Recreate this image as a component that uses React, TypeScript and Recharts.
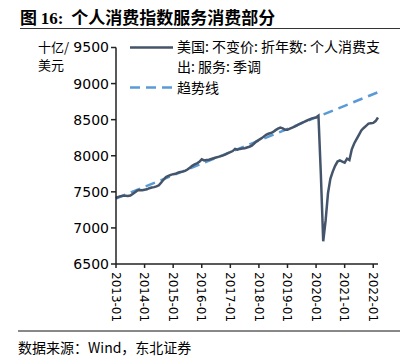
import { LineChart, Line, XAxis, YAxis } from 'recharts';

// monthly, 2013-01 .. 2022-03
const years = [2013, 2014, 2015, 2016, 2017, 2018, 2019, 2020, 2021, 2022];

const pceServices = [
  // 2013
  7415, 7430, 7440, 7445, 7445, 7442, 7448, 7470, 7495, 7520, 7525, 7522,
  // 2014
  7530, 7535, 7550, 7560, 7565, 7575, 7590, 7630, 7670, 7705, 7720, 7735,
  // 2015
  7745, 7750, 7765, 7775, 7780, 7790, 7810, 7835, 7860, 7880, 7895, 7915,
  // 2016
  7950, 7935, 7940, 7945, 7955, 7965, 7975, 7985, 7995, 8005, 8020, 8035,
  // 2017
  8050, 8065, 8095, 8085, 8095, 8100, 8105, 8115, 8125, 8140, 8170, 8200,
  // 2018
  8220, 8240, 8265, 8290, 8305, 8315, 8330, 8355, 8375, 8390, 8380, 8360,
  // 2019
  8360, 8375, 8390, 8405, 8420, 8440, 8455, 8470, 8485, 8500, 8515, 8525,
  // 2020
  8530, 8555, 7750, 6815, 7100, 7480, 7680, 7780, 7860, 7920, 7935, 7920,
  // 2021
  7905, 7960, 7940, 8090, 8170, 8230, 8290, 8350, 8385, 8415, 8445, 8450,
  // 2022
  8455, 8480, 8530,
];

// trend line: only its two ends are given
const trendStart = 7408;
const trendEnd = 8880;

const yTicks = [6500, 7000, 7500, 8000, 8500, 9000, 9500];

const months = pceServices.map((_, i) => {
  const y = 2013 + Math.floor(i / 12);
  const m = (i % 12) + 1;
  return `${y}-${m < 10 ? '0' + m : m}`;
});
const xTicks = years.map((y) => `${y}-01`);

const data = months.map((month, i) => ({
  month,
  v: pceServices[i],
  trend: i === 0 ? trendStart : i === months.length - 1 ? trendEnd : null,
}));

const LINE_COLOR = '#44546A';
const TREND_COLOR = '#5B9BD5';
const CJK = '"Noto Sans CJK SC", sans-serif';

const XTick = ({ x, y, payload }: any) => (
  <text
    x={0}
    y={0}
    dy="0.36em"
    transform={`translate(${x},${y}) rotate(90)`}
    textAnchor="start"
    fontSize={12}
    fontFamily="DejaVu Sans"
    fill="#000"
  >
    {payload.value}
  </text>
);

export default function App() {
  return (
    <div style={{ position: 'absolute', left: 0, top: 0, width: 411, height: 362, background: '#fff', fontFamily: CJK }}>
      <div style={{ position: 'absolute', left: 20, top: 4, fontSize: 17, fontWeight: 'bold', whiteSpace: 'nowrap', color: '#000' }}>
        图 <span style={{ fontFamily: '"Liberation Serif", serif' }}>16:</span>&nbsp; 个人消费指数服务消费部分
      </div>
      <div style={{ position: 'absolute', left: 20, top: 28, width: 380, height: 1, background: '#333' }} />

      <LineChart
        width={411}
        height={362}
        data={data}
        margin={{ top: 47.5, right: 33, bottom: 38, left: 0 }}
        style={{ position: 'absolute', left: 0, top: 0 }}
      >
        <YAxis
          width={116}
          domain={[6500, 9500]}
          ticks={yTicks}
          interval={0}
          tickSize={5}
          tickMargin={2}
          axisLine={{ stroke: '#222', strokeWidth: 1.5 }}
          tickLine={{ stroke: '#222', strokeWidth: 1.5 }}
          tick={{ fill: '#000', fontSize: 14, fontFamily: 'DejaVu Sans' }}
        />
        <XAxis
          dataKey="month"
          ticks={xTicks}
          interval={0}
          height={60}
          tickSize={4}
          tickMargin={4}
          axisLine={{ stroke: '#222', strokeWidth: 1.5 }}
          tickLine={{ stroke: '#222', strokeWidth: 1.5 }}
          tick={<XTick />}
        />
        <Line
          dataKey="trend"
          stroke={TREND_COLOR}
          strokeWidth={2.5}
          strokeDasharray="10 6"
          connectNulls
          dot={false}
          isAnimationActive={false}
        />
        <Line
          dataKey="v"
          type="linear"
          stroke={LINE_COLOR}
          strokeWidth={2.5}
          dot={false}
          isAnimationActive={false}
        />
      </LineChart>

      <div style={{ position: 'absolute', left: 38, top: 38, fontSize: 13, lineHeight: '18px', color: '#000' }}>
        十亿/<br />美元
      </div>

      <svg style={{ position: 'absolute', left: 0, top: 0 }} width={411} height={110}>
        <line x1={130} y1={47.5} x2={173} y2={47.5} stroke={LINE_COLOR} strokeWidth={2.5} />
        <line x1={130} y1={87.5} x2={173} y2={87.5} stroke={TREND_COLOR} strokeWidth={2.5} strokeDasharray="10 6" />
      </svg>
      <div style={{ position: 'absolute', left: 177, top: 37, fontSize: 14, lineHeight: '19.5px', color: '#000', whiteSpace: 'nowrap' }}>
        美国: 不变价: 折年数: 个人消费支<br />出: 服务: 季调
      </div>
      <div style={{ position: 'absolute', left: 177, top: 78, fontSize: 14, lineHeight: '19px', color: '#000' }}>
        趋势线
      </div>

      <div style={{ position: 'absolute', left: 18, top: 330, width: 382, height: 1.5, background: '#888' }} />
      <div style={{ position: 'absolute', left: 18, top: 337, fontSize: 14, lineHeight: '20px', color: '#000', whiteSpace: 'nowrap' }}>
        数据来源：Wind，东北证券
      </div>
    </div>
  );
}
